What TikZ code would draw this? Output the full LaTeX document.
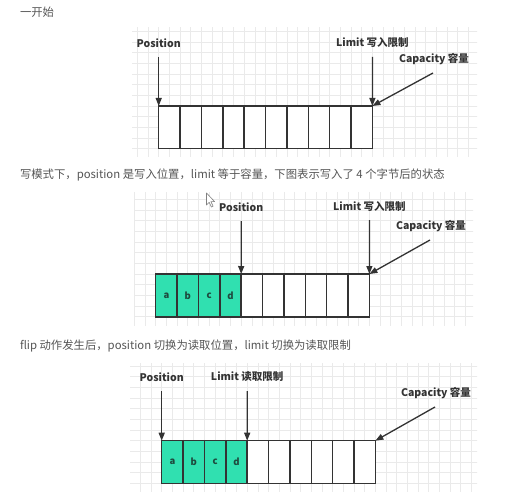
\documentclass[tikz,border=0pt]{standalone}
\usepackage{fontspec}
\setmainfont{Noto Sans CJK SC}
\usetikzlibrary{arrows.meta}
\definecolor{ink}{HTML}{333333}
\definecolor{bodytext}{HTML}{555555}
\definecolor{gridc}{HTML}{EAEAEA}
\definecolor{filled}{HTML}{30E0B0}
\definecolor{cellink}{HTML}{1E4A3E}
\begin{document}
\begin{tikzpicture}[x=1pt,y=-1pt,
  every node/.style={inner sep=0pt, outer sep=0pt},
  cell/.style={draw=ink, line width=1.4pt, fill=white, minimum width=21.37pt,
    minimum height=42.8pt, anchor=north west},
  used/.style={fill=filled, font=\fontsize{9.5}{10}\selectfont\bfseries, text=cellink},
  tag/.style={font=\fontsize{10.5}{12}\selectfont\bfseries, text=ink},
  caption/.style={font=\fontsize{11.35}{13}\selectfont, text=bodytext, anchor=west},
  ptr/.style={draw=ink, line width=1.3pt, -{Triangle[length=8pt,width=6pt]}},
  gridline/.style={draw=gridc, line width=0.6pt}]

\useasboundingbox[fill=white] (0,0) rectangle (517,492);

% ---------- background grids ----------
\begin{scope}
  \clip (132,28) rectangle (477,157);
  \draw[gridline, xshift=158.7pt, yshift=-106pt, step=10.68pt] (-40,-90) grid (330,60);
\end{scope}
\begin{scope}
  \clip (134,193) rectangle (473,325);
  \draw[gridline, xshift=155.7pt, yshift=-274pt, step=10.68pt] (-40,-90) grid (330,60);
\end{scope}
\begin{scope}
  \clip (130,363) rectangle (477,492);
  \draw[gridline, xshift=161.7pt, yshift=-440.7pt, step=10.68pt] (-40,-90) grid (330,60);
\end{scope}

% ---------- captions ----------
\node[caption] (cap1) at (20,12) {一开始};
\node[caption] (cap2) at (20,175) {写模式下，position 是写入位置，limit 等于容量，下图表示写入了 4 个字节后的状态};
\node[caption] (cap3) at (20,346) {flip 动作发生后，position 切换为读取位置，limit 切换为读取限制};

% ---------- buffer 1: empty ----------
\foreach \i in {0,...,9}
  \node[cell] (p1c\i) at (158.7+\i*21.37,106) {};
\node[tag] (p1pos) at (158.7,43) {Position};
\node[tag] (p1lim) at (372.4,43) {Limit 写入限制};
\node[tag] (p1cap) at (434,59) {Capacity 容量};
\coordinate (p1posfrom) at (158.7,57);
\coordinate (p1limfrom) at (372.4,57);
\coordinate (p1capfrom) at (433,73);
\draw[ptr] (p1posfrom) -- (p1c0.north west);
\draw[ptr] (p1limfrom) -- (p1c9.north east);
\draw[ptr] (p1capfrom) -- (p1c9.north east);

% ---------- buffer 2: four bytes written ----------
\foreach \l [count=\i from 0] in {a,b,c,d}
  \node[cell,used] (p2c\i) at (155.7+\i*21.37,274) {\l};
\foreach \i in {4,...,9}
  \node[cell] (p2c\i) at (155.7+\i*21.37,274) {};
\node[tag] (p2pos) at (241.2,207) {Position};
\node[tag] (p2lim) at (369.4,207) {Limit 写入限制};
\node[tag] (p2cap) at (431,226) {Capacity 容量};
\coordinate (p2posfrom) at (241.2,221);
\coordinate (p2limfrom) at (369.4,220);
\coordinate (p2capfrom) at (430,240);
\draw[ptr] (p2posfrom) -- (p2c3.north east);
\draw[ptr] (p2limfrom) -- (p2c9.north east);
\draw[ptr] (p2capfrom) -- (p2c9.north east);
% mouse pointer
\filldraw[fill=white, draw=gray, line width=0.6pt, line join=round]
  (206.5,193) -- (206.5,205) -- (209.2,202.3) -- (211.4,207) -- (213.1,206.2)
  -- (210.9,201.6) -- (214.6,201.6) -- cycle;

% ---------- buffer 3: after flip ----------
\foreach \l [count=\i from 0] in {a,b,c,d}
  \node[cell,used] (p3c\i) at (161.7+\i*21.37,440.7) {\l};
\foreach \i in {4,...,9}
  \node[cell] (p3c\i) at (161.7+\i*21.37,440.7) {};
\node[tag] (p3pos) at (161.7,377) {Position};
\node[tag] (p3lim) at (247.2,377) {Limit 读取限制};
\node[tag] (p3cap) at (436,393) {Capacity 容量};
\coordinate (p3posfrom) at (161.7,391);
\coordinate (p3limfrom) at (247.2,391);
\coordinate (p3capfrom) at (435,407);
\draw[ptr] (p3posfrom) -- (p3c0.north west);
\draw[ptr] (p3limfrom) -- (p3c3.north east);
\draw[ptr] (p3capfrom) -- (p3c9.north east);
\end{tikzpicture}
\end{document}
